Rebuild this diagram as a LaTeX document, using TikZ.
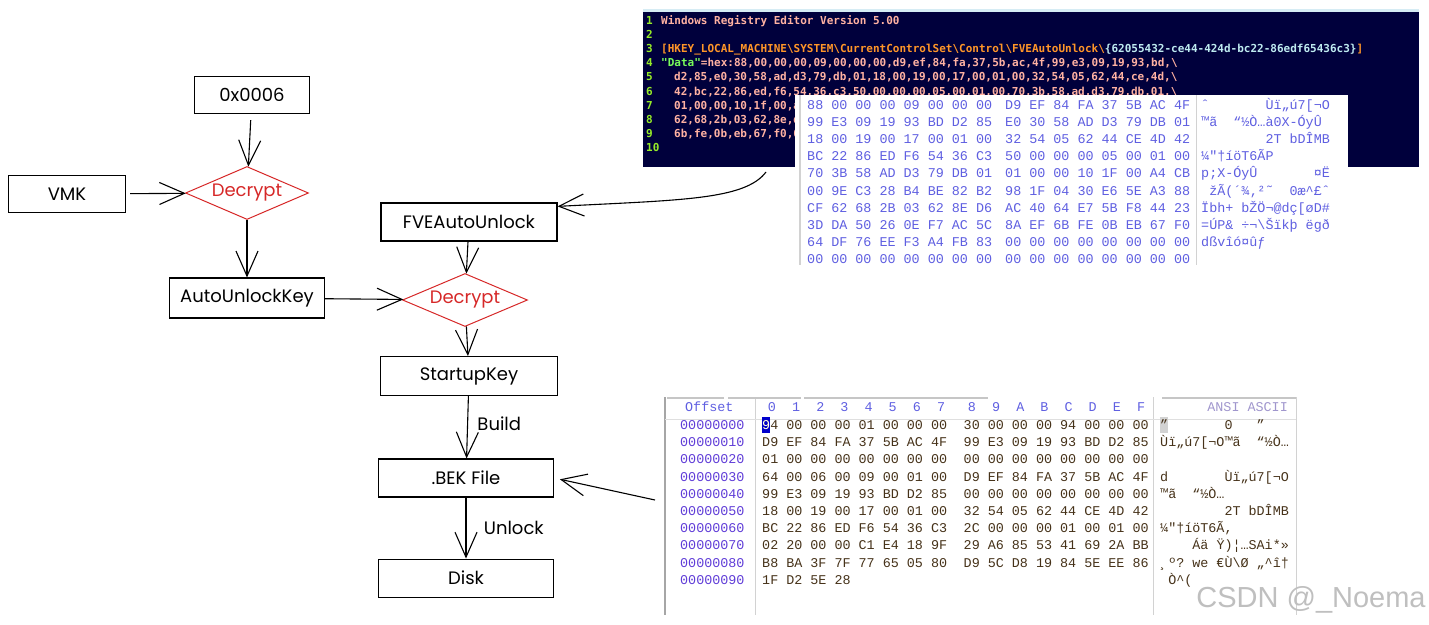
\documentclass[tikz,border=0pt]{standalone}
\usepackage{fontspec}
\setmainfont{Poppins}
\newfontfamily\regfont{DejaVu Sans Mono}
\newfontfamily\hexfont{Liberation Mono}
\newfontfamily\markfont{Liberation Sans}
\usetikzlibrary{shapes.geometric, arrows.meta, positioning}
\definecolor{decred}{RGB}{214,40,40}
\definecolor{regbg}{RGB}{0,0,60}
\definecolor{regstrip}{RGB}{214,236,244}
\definecolor{regnum}{RGB}{150,235,40}
\definecolor{regtxt}{RGB}{255,178,162}
\definecolor{regkey}{RGB}{255,150,40}
\definecolor{regguid}{RGB}{190,235,240}
\definecolor{reggreen}{RGB}{120,250,90}
\definecolor{hexblue}{RGB}{95,95,225}
\definecolor{offblue}{RGB}{95,60,215}
\definecolor{hexdark}{RGB}{70,50,25}
\definecolor{asciigray}{RGB}{160,150,205}

\begin{document}
\begin{tikzpicture}[x=1pt, y=-1pt,
    box/.style={draw, line width=1.1pt, minimum height=37pt, font=\fontsize{18}{20}\selectfont},
    dec/.style={diamond, draw=decred, text=decred, line width=1pt, aspect=2.3, inner sep=0pt,
      minimum width=123pt, minimum height=53pt, font=\fontsize{18}{20}\selectfont},
    flow/.style={-{Straight Barb[length=25pt, width=22pt]}, line width=1.1pt},
    lbl/.style={font=\fontsize{18}{20}\selectfont},
    reg/.style={anchor=base west, inner sep=0pt, font=\regfont\bfseries\fontsize{11}{13}\selectfont},
    hex/.style={anchor=base west, inner sep=0pt, font=\hexfont\fontsize{13.4}{16}\selectfont}]

  \useasboundingbox (0,0) rectangle (1429,624);

  % flow chart
  \node[box, minimum width=115pt] (mask) at (252,95) {0x0006};
  \node[box, minimum width=117pt] (vmk) at (67,194) {VMK};
  \node[dec] (dec1) at (247,193) {Decrypt};
  \node[box, minimum width=155pt, minimum height=40pt] (auk) at (247,298) {AutoUnlockKey};
  \node[box, minimum width=176pt, minimum height=38pt] (fve) at (469,222) {FVEAutoUnlock};
  \node[dec, minimum width=125pt] (dec2) at (465,300) {Decrypt};
  \node[box, minimum width=177pt, minimum height=39pt] (sk) at (469,376) {StartupKey};
  \node[box, minimum width=175pt, minimum height=38pt] (bek) at (466,478) {.BEK File};
  \node[box, minimum width=175pt, minimum height=38pt, below=61pt of bek] (disk) {Disk};
  \coordinate (regtail) at (766,172);
  \coordinate (hextail) at (655,500);

  \path[flow]
    (mask) edge[shorten <=6pt] (dec1)
    (vmk) edge[shorten <=4pt] (dec1)
    (dec1) edge (auk)
    (auk) edge (dec2)
    (fve) edge (dec2)
    (dec2) edge (sk)
    (sk) edge node[lbl, right=6pt, pos=0.45] {Build} (bek)
    (bek) edge node[lbl, right=14pt] {Unlock} (disk)
    (hextail) edge[shorten >=6pt] (bek.east);
  \draw[flow] (regtail) .. controls (745,200) and (680,200) .. (fve.10);

  % registry export
  \fill[regstrip] (643,9) rectangle (1419,13);
  \fill[regbg] (643,12) rectangle (1419,167);
  \foreach \n in {1,...,10}
    \node[reg, text=regnum] (ln\n) at (646, 10.4+14.1*\n) {\n};
  \node[reg, text=regtxt] (l1) at (661,24.5) {Windows Registry Editor Version 5.00};
  \node[reg, text=regkey] (l3) at (661,52.7) {[HKEY\_LOCAL\_MACHINE\textbackslash SYSTEM\textbackslash CurrentControlSet\textbackslash Control\textbackslash FVEAutoUnlock\textbackslash\textcolor{regguid}{\{62055432-ce44-424d-bc22-86edf65436c3\}}]};
  \node[reg, text=regtxt] (l4) at (661,66.8) {\textcolor{reggreen}{"Data"}=hex:88,00,00,00,09,00,00,00,d9,ef,84,fa,37,5b,ac,4f,99,e3,09,19,93,bd,\textbackslash};
  \foreach \t [count=\k from 5] in {
      {d2,85,e0,30,58,ad,d3,79,db,01,18,00,19,00,17,00,01,00,32,54,05,62,44,ce,4d,\textbackslash},
      {42,bc,22,86,ed,f6,54,36,c3,50,00,00,00,05,00,01,00,70,3b,58,ad,d3,79,db,01,\textbackslash},
      {01,00,00,10,1f,00,a4,cb,00,9e,c3,28,b4,be,82,b2,98,1f,04,30,e6,5e,a3,88,cf,\textbackslash},
      {62,68,2b,03,62,8e,d6,ac,40,64,e7,5b,f8,44,23,3d,da,50,26,0e,f7,ac,5c,8a,ef,\textbackslash},
      {6b,fe,0b,eb,67,f0,64,df,76,ee,f3,a4,fb,83,00,00,00,00,00,00,00,00}}
    \node[reg, text=regtxt] (l\k) at (674, 10.4+14.1*\k) {\t};

  % binary view on top
  \fill[white] (795,95) rectangle (1348,265);
  \draw[gray!35, line width=1.5pt] (800,95) -- (800,265);
  \draw[gray!35] (1196,95) -- (1196,265);
  \foreach \a/\b/\c [count=\i] in {
      {88 00 00 00 09 00 00 00}/{D9 EF 84 FA 37 5B AC 4F}/{ˆ~~~~~~~Ùï„ú7[¬O},
      {99 E3 09 19 93 BD D2 85}/{E0 30 58 AD D3 79 DB 01}/{™ã~~“½Ò…à0X-ÓyÛ},
      {18 00 19 00 17 00 01 00}/{32 54 05 62 44 CE 4D 42}/{~~~~~~~~2T~bDÎMB},
      {BC 22 86 ED F6 54 36 C3}/{50 00 00 00 05 00 01 00}/{¼"†íöT6ÃP},
      {70 3B 58 AD D3 79 DB 01}/{01 00 00 10 1F 00 A4 CB}/{p;X-ÓyÛ~~~~~~~¤Ë},
      {00 9E C3 28 B4 BE 82 B2}/{98 1F 04 30 E6 5E A3 88}/{~žÃ(´¾‚²˜~~0æ\textasciicircum£ˆ},
      {CF 62 68 2B 03 62 8E D6}/{AC 40 64 E7 5B F8 44 23}/{Ïbh+~bŽÖ¬@dç[øD\#},
      {3D DA 50 26 0E F7 AC 5C}/{8A EF 6B FE 0B EB 67 F0}/{=ÚP\&~÷¬\textbackslash Šïkþ~ëgð},
      {64 DF 76 EE F3 A4 FB 83}/{00 00 00 00 00 00 00 00}/{dßvîó¤ûƒ},
      {00 00 00 00 00 00 00 00}/{00 00 00 00 00 00 00 00}/{}}
  {
    \node[hex, text=hexblue] (ta\i) at (807, 92.4+17.1*\i) {\a};
    \node[hex, text=hexblue] (tb\i) at (1005, 92.4+17.1*\i) {\b};
    \node[hex, text=hexblue] (tc\i) at (1201, 92.4+17.1*\i) {\c};
  }

  % hex editor
  \draw[gray!70, line width=1.5pt] (665,397) -- (665,615);
  \draw[gray!35] (755,397) -- (755,615) (1153,397) -- (1153,615) (1296,397) -- (1296,615);
  \draw[gray!25] (665,419) -- (1296,419);
  \draw[gray!45, line width=1.5pt] (667,398) -- (724,398) (728,398) -- (801,398) (804,398) -- (988,398) (1162,398) -- (1296,398);
  \fill[blue!80!black] (762,417) rectangle (770,433);
  \fill[gray!35] (1160,417) rectangle (1168,433);
  \node[hex, text=hexblue] (hoff) at (685,411.5) {Offset};
  \foreach \d [count=\j from 0] in {0,1,2,3,4,5,6,7,8,9,A,B,C,D,E,F}
    \node[hex, anchor=base, text=hexblue] (hd\j) at ({772+24.15*\j+6.8*(\j>7)}, 411.5) {\d};
  \node[hex, anchor=base east, text=asciigray] (hasc) at (1288,411.5) {ANSI ASCII};
  \foreach \a/\b/\c [count=\i from 0] in {
      {94 00 00 00 01 00 00 00}/{30 00 00 00 94 00 00 00}/{”~~~~~~~0~~~”},
      {D9 EF 84 FA 37 5B AC 4F}/{99 E3 09 19 93 BD D2 85}/{Ùï„ú7[¬O™ã~~“½Ò…},
      {01 00 00 00 00 00 00 00}/{00 00 00 00 00 00 00 00}/{},
      {64 00 06 00 09 00 01 00}/{D9 EF 84 FA 37 5B AC 4F}/{d~~~~~~~Ùï„ú7[¬O},
      {99 E3 09 19 93 BD D2 85}/{00 00 00 00 00 00 00 00}/{™ã~~“½Ò…},
      {18 00 19 00 17 00 01 00}/{32 54 05 62 44 CE 4D 42}/{~~~~~~~~2T~bDÎMB},
      {BC 22 86 ED F6 54 36 C3}/{2C 00 00 00 01 00 01 00}/{¼"†íöT6Ã,},
      {02 20 00 00 C1 E4 18 9F}/{29 A6 85 53 41 69 2A BB}/{~~~~Áä~Ÿ)¦…SAi*»},
      {B8 BA 3F 7F 77 65 05 80}/{D9 5C D8 19 84 5E EE 86}/{¸º?~we~€Ù\textbackslash Ø~„\textasciicircum î†},
      {1F D2 5E 28}/{}/{~Ò\textasciicircum(}}
  {
    \node[hex, text=offblue] (off\i) at (680, 429.4+17.2*\i) {000000\i0};
    \node[hex, text=hexdark] (ha\i) at (762, 429.4+17.2*\i) {\a};
    \node[hex, text=hexdark] (hb\i) at (963.5, 429.4+17.2*\i) {\b};
    \node[hex, text=hexdark] (hc\i) at (1160, 429.4+17.2*\i) {\c};
  }
  \node[hex, text=white] (cur) at (762,429.4) {9};

  \node[font=\markfont\fontsize{29}{30}\selectfont, text=gray!50] (mark) at (1311,600) {CSDN @\_Noema};
\end{tikzpicture}
\end{document}
